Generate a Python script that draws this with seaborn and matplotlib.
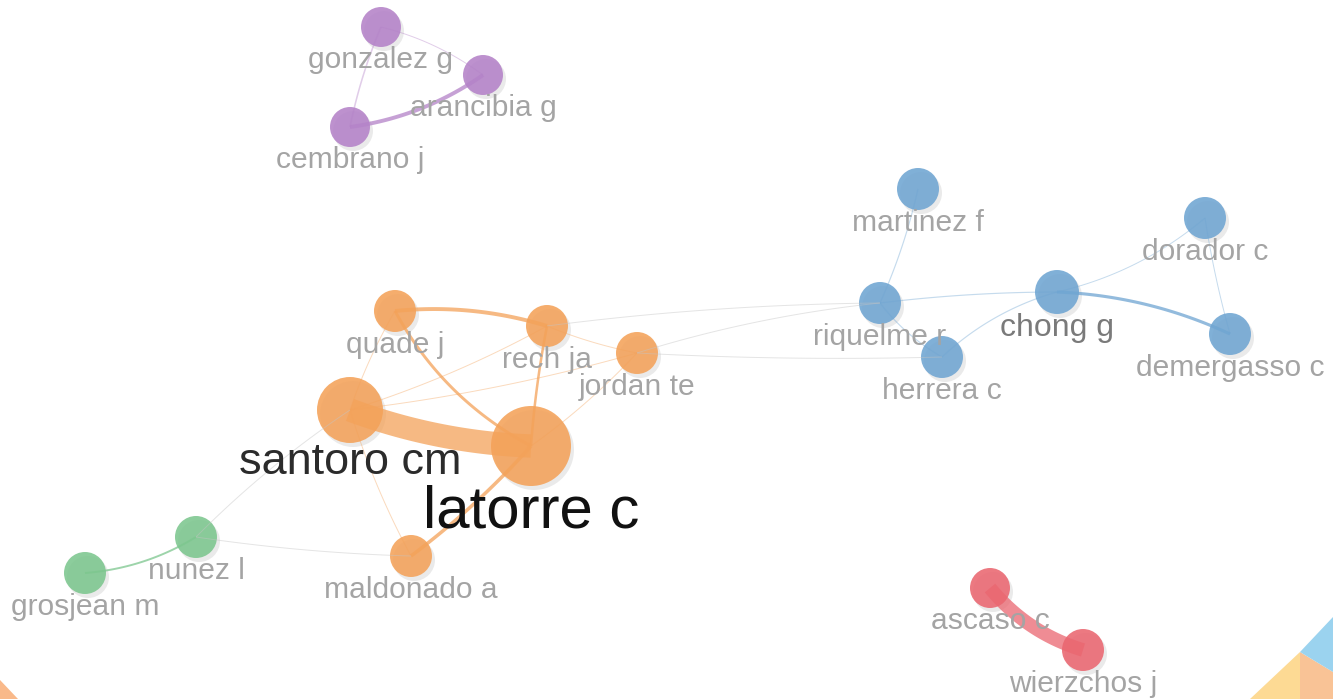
import numpy as np
import pandas as pd
import matplotlib
matplotlib.use("Agg")
import matplotlib.pyplot as plt
import seaborn as sns

# ----------------------------------------------------------------
# network data (layout coordinates, node weight, cluster)
# ----------------------------------------------------------------
names = ["gonzalez g", "arancibia g", "cembrano j",
         "martinez f", "dorador c", "riquelme r", "chong g", "demergasso c", "herrera c",
         "quade j", "rech ja", "jordan te", "santoro cm", "latorre c", "maldonado a",
         "nunez l", "grosjean m",
         "ascaso c", "wierzchos j"]
node_x = [381, 483, 350, 918, 1205, 880, 1057, 1230, 942,
          395, 547, 637, 350, 531, 411, 196, 85, 990, 1083]
node_y = [27, 75, 127, 189, 218, 303, 292, 334, 357,
          311, 326, 353, 410, 446, 556, 537, 573, 588, 650]
node_weight = [20, 20, 20, 21, 21, 21, 22, 21, 21,
               21, 21, 21, 33, 40, 21, 21, 21, 20, 21]
cluster = ["purple"] * 3 + ["blue"] * 6 + ["orange"] * 6 + ["green"] * 2 + ["red"] * 2

# links: source, target, link strength
link_src = ["santoro cm", "ascaso c", "rech ja", "cembrano j", "quade j", "rech ja",
            "maldonado a", "demergasso c", "grosjean m", "gonzalez g", "gonzalez g",
            "riquelme r", "riquelme r", "riquelme r", "herrera c", "chong g", "dorador c",
            "rech ja", "jordan te", "jordan te", "santoro cm", "santoro cm", "latorre c",
            "rech ja", "quade j", "santoro cm", "santoro cm", "nunez l"]
link_dst = ["latorre c", "wierzchos j", "quade j", "arancibia g", "latorre c", "latorre c",
            "latorre c", "chong g", "nunez l", "cembrano j", "arancibia g",
            "martinez f", "chong g", "herrera c", "chong g", "dorador c", "demergasso c",
            "riquelme r", "riquelme r", "herrera c", "rech ja", "jordan te", "jordan te",
            "jordan te", "santoro cm", "maldonado a", "nunez l", "maldonado a"]
link_strength = [12, 7, 2, 2, 1.5, 1.3, 1.8, 1.6, 1, 0.8, 0.5,
                 0.6, 0.6, 0.6, 0.6, 0.5, 0.5,
                 0.5, 0.5, 0.5, 0.5, 0.5, 0.5, 0.5, 0.5, 0.5, 0.5, 0.5]

# ----------------------------------------------------------------
# styling
# ----------------------------------------------------------------
palette = {"purple": "#B482C8", "blue": "#6FA5D2", "orange": "#F4A259",
           "green": "#7CC68E", "red": "#EA6670"}
link_bend = [0.08, 0.15, 0.1, 0.12, 0.15, 0.03, 0.05, 0.1, 0.12, 0.05, -0.1,
             0.05, -0.03, 0.1, -0.12, 0.12, 0.03,
             -0.03, -0.05, 0.02, 0.05, 0.04, 0.05, 0.05, 0.05, 0.05, 0.05, 0.03]
label_style = {"latorre c": (60, "#111111"), "santoro cm": (45, "#2b2b2b"),
               "chong g": (32, "#7a7a7a")}
default_label = (30, "#a4a4a4")

nodes = pd.DataFrame({"name": names, "x": node_x, "y": node_y,
                      "weight": node_weight, "cluster": cluster})
nodes["area"] = (2 * nodes["weight"] * 0.72) ** 2
pos = nodes.set_index("name")

sns.set_theme(style="white")
plt.rcParams["font.family"] = ["Liberation Sans", "DejaVu Sans"]

fig = plt.figure(figsize=(13.33, 6.99), dpi=100)
ax = fig.add_axes([0, 0, 1, 1])
ax.set_xlim(0, 1333)
ax.set_ylim(699, 0)
ax.axis("off")

# corner decorations
ax.fill([1250, 1300, 1300], [699, 652, 699], color="#FDDA94", lw=0, zorder=1)
ax.fill([1300, 1333, 1333, 1300], [652, 672, 699, 699], color="#F9C396", lw=0, zorder=1)
ax.fill([1300, 1333, 1333], [652, 617, 672], color="#9BD3EF", lw=0, zorder=1)
ax.fill([0, 18, 0], [680, 699, 699], color="#F9B98A", lw=0, zorder=1)

# node shadows + nodes
shadow = nodes.assign(x=nodes["x"] + 3, y=nodes["y"] + 4)
sns.scatterplot(data=shadow, x="x", y="y", size="area",
                sizes=(nodes["area"].min(), nodes["area"].max()),
                color="#555555", alpha=0.12, edgecolor="none", legend=False,
                ax=ax, zorder=2)
sns.scatterplot(data=nodes, x="x", y="y", hue="cluster", palette=palette, size="area",
                sizes=(nodes["area"].min(), nodes["area"].max()),
                alpha=0.88, edgecolor="none", legend=False, ax=ax, zorder=3)

# curved links
t = np.linspace(0, 1, 60)
for s, d, w, b in zip(link_src, link_dst, link_strength, link_bend):
    p0 = np.array([pos.loc[s, "x"], pos.loc[s, "y"]], dtype=float)
    p2 = np.array([pos.loc[d, "x"], pos.loc[d, "y"]], dtype=float)
    vec = p2 - p0
    perp = np.array([-vec[1], vec[0]])
    p1 = (p0 + p2) / 2 + b * perp
    curve = ((1 - t) ** 2)[:, None] * p0 + (2 * (1 - t) * t)[:, None] * p1 + (t ** 2)[:, None] * p2
    cs, cd = pos.loc[s, "cluster"], pos.loc[d, "cluster"]
    if cs == cd:
        col = palette[cs]
        alpha = 0.75 if w >= 1 else 0.4
    else:
        col = "#c4c4c4"
        alpha = 0.45
    ax.plot(curve[:, 0], curve[:, 1], color=col, lw=w * 1.4, alpha=alpha,
            solid_capstyle="butt", zorder=4)

# labels
for _, row in nodes.iterrows():
    fpx, fcol = label_style.get(row["name"], default_label)
    ax.text(row["x"], row["y"] + row["weight"] + 0.7 * fpx, row["name"],
            ha="center", va="baseline", fontsize=fpx * 0.72, color=fcol, zorder=5)

fig.savefig("out.png", dpi=100)
